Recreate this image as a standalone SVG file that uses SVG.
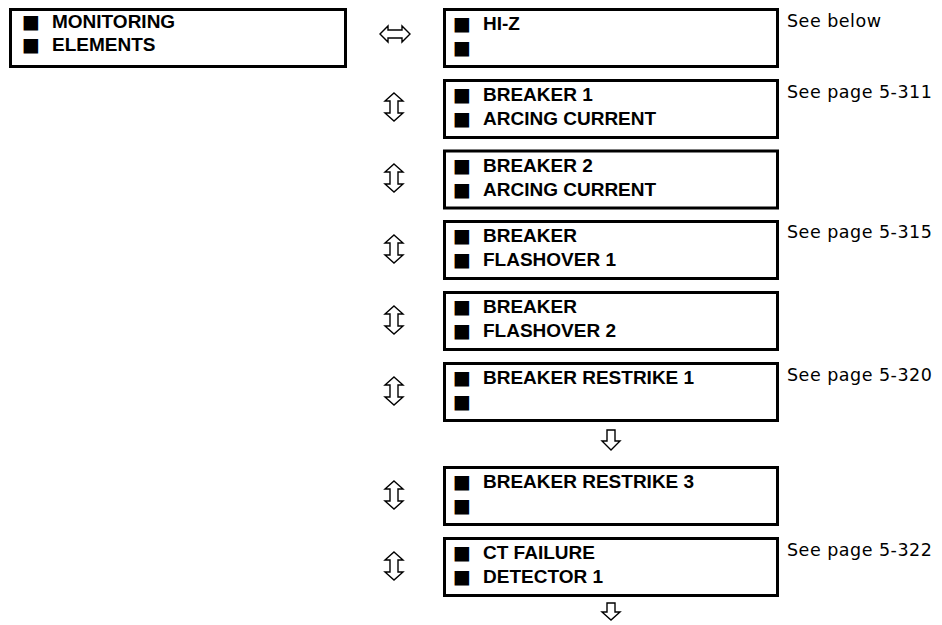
<svg xmlns="http://www.w3.org/2000/svg" width="942" height="625" viewBox="0 0 942 625">
<style>
.box{fill:#fff;stroke:#000;stroke-width:3}
.lbl{font-family:"Liberation Sans",Arial,sans-serif;font-weight:700;font-size:19px;fill:#000}
.lft{font-family:"Liberation Sans",Arial,sans-serif;font-weight:700;font-size:19px;fill:#000}
.sq{font-family:"DejaVu Sans",sans-serif;font-weight:400}
.ref{font-family:"DejaVu Sans","Liberation Sans",sans-serif;font-size:17.5px;letter-spacing:0.5px;fill:#000}
.arr{fill:#fff;stroke:#000;stroke-width:1.4;stroke-linejoin:miter}
</style>
<rect width="942" height="625" fill="#fff"/>
<g id="monitoring-elements">
<rect class="box" x="10.5" y="9.5" width="335" height="57"/>
<text class="lft" y="28"><tspan class="sq" x="22">■</tspan><tspan x="52">MONITORING</tspan></text>
<text class="lft" y="51"><tspan class="sq" x="22">■</tspan><tspan x="52">ELEMENTS</tspan></text>
</g>
<g id="hi-z">
<rect class="box" x="444.5" y="9.5" width="333" height="57"/>
<text class="lbl" y="30"><tspan class="sq" x="453">■</tspan><tspan x="483">HI-Z</tspan></text>
<text class="lbl" y="54"><tspan class="sq" x="453">■</tspan></text>
<text class="ref" x="787" y="27">See below</text>
</g>
<g id="breaker1-arcing">
<rect class="box" x="444.5" y="80.5" width="333" height="57"/>
<text class="lbl" y="101"><tspan class="sq" x="453">■</tspan><tspan x="483">BREAKER 1</tspan></text>
<text class="lbl" y="125"><tspan class="sq" x="453">■</tspan><tspan x="483">ARCING CURRENT</tspan></text>
<text class="ref" x="787" y="98">See page 5-311</text>
</g>
<g id="breaker2-arcing">
<rect class="box" x="444.5" y="151" width="333" height="57"/>
<text class="lbl" y="172"><tspan class="sq" x="453">■</tspan><tspan x="483">BREAKER 2</tspan></text>
<text class="lbl" y="196"><tspan class="sq" x="453">■</tspan><tspan x="483">ARCING CURRENT</tspan></text>
</g>
<g id="breaker-flashover1">
<rect class="box" x="444.5" y="221.5" width="333" height="57"/>
<text class="lbl" y="242"><tspan class="sq" x="453">■</tspan><tspan x="483">BREAKER</tspan></text>
<text class="lbl" y="266"><tspan class="sq" x="453">■</tspan><tspan x="483">FLASHOVER 1</tspan></text>
<text class="ref" x="787" y="238">See page 5-315</text>
</g>
<g id="breaker-flashover2">
<rect class="box" x="444.5" y="292.5" width="333" height="57"/>
<text class="lbl" y="313"><tspan class="sq" x="453">■</tspan><tspan x="483">BREAKER</tspan></text>
<text class="lbl" y="337"><tspan class="sq" x="453">■</tspan><tspan x="483">FLASHOVER 2</tspan></text>
</g>
<g id="breaker-restrike1">
<rect class="box" x="444.5" y="363.5" width="333" height="57"/>
<text class="lbl" y="384"><tspan class="sq" x="453">■</tspan><tspan x="483">BREAKER RESTRIKE 1</tspan></text>
<text class="lbl" y="408"><tspan class="sq" x="453">■</tspan></text>
<text class="ref" x="787" y="381">See page 5-320</text>
</g>
<g id="breaker-restrike3">
<rect class="box" x="444.5" y="467.5" width="333" height="57"/>
<text class="lbl" y="488"><tspan class="sq" x="453">■</tspan><tspan x="483">BREAKER RESTRIKE 3</tspan></text>
<text class="lbl" y="512"><tspan class="sq" x="453">■</tspan></text>
</g>
<g id="ct-failure-detector1">
<rect class="box" x="444.5" y="538.5" width="333" height="57"/>
<text class="lbl" y="559"><tspan class="sq" x="453">■</tspan><tspan x="483">CT FAILURE</tspan></text>
<text class="lbl" y="583"><tspan class="sq" x="453">■</tspan><tspan x="483">DETECTOR 1</tspan></text>
<text class="ref" x="787" y="556">See page 5-322</text>
</g>
<g id="connectors">
<path class="arr" d="M380,34 L388,26 L388,30 L402,30 L402,26 L410,34 L402,42 L402,38 L388,38 L388,42 Z"/>
<path class="arr" d="M394,93 l9,8 h-5 v12 h5 l-9,8 l-9,-8 h5 v-12 h-5 Z"/>
<path class="arr" d="M394,164 l9,8 h-5 v12 h5 l-9,8 l-9,-8 h5 v-12 h-5 Z"/>
<path class="arr" d="M394,235 l9,8 h-5 v12 h5 l-9,8 l-9,-8 h5 v-12 h-5 Z"/>
<path class="arr" d="M394,306 l9,8 h-5 v12 h5 l-9,8 l-9,-8 h5 v-12 h-5 Z"/>
<path class="arr" d="M394,377 l9,8 h-5 v12 h5 l-9,8 l-9,-8 h5 v-12 h-5 Z"/>
<path class="arr" d="M394,481 l9,8 h-5 v12 h5 l-9,8 l-9,-8 h5 v-12 h-5 Z"/>
<path class="arr" d="M394,552 l9,8 h-5 v12 h5 l-9,8 l-9,-8 h5 v-12 h-5 Z"/>
<path class="arr" d="M607,430 h8 v11 h5 l-9,9 l-9,-9 h5 Z"/>
<path class="arr" d="M607,603 h8 v9 h5 l-9,8 l-9,-8 h5 Z"/>
</g>
</svg>
